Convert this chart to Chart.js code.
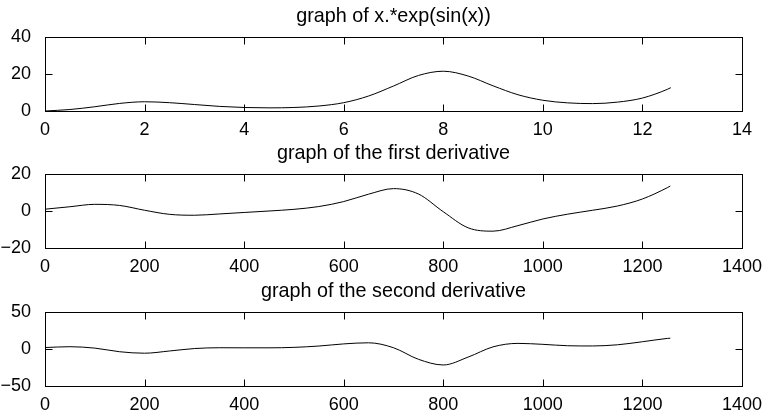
<!DOCTYPE html>
<html>
<head>
<meta charset="utf-8">
<script src="https://cdn.jsdelivr.net/npm/chart.js@4"></script>
<style>
  body { margin: 0; background: #fff; width: 767px; height: 417px; position: relative; overflow: hidden; }
  canvas { position: absolute; left: 0; }
</style>
</head>
<body>
<canvas id="c1" width="767" height="138" style="top:0px"></canvas>
<canvas id="c2" width="767" height="138" style="top:137px"></canvas>
<canvas id="c3" width="767" height="142" style="top:275px"></canvas>
<script>
// values
const xValues = [0, 0.5, 1, 1.5, 2, 2.5, 3, 3.5, 4, 4.5, 5, 5.5, 6, 6.5, 7, 7.5, 8, 8.5, 9, 9.5, 10, 10.5, 11, 11.5, 12, 12.5, 12.57];
const fValues = [0, 0.8, 2.3, 4.1, 5.0, 4.5, 3.5, 2.5, 1.9, 1.7, 1.9, 2.7, 4.5, 8.1, 13.5, 19.2, 21.5, 18.9, 13.6, 8.8, 5.8, 4.4, 4.0, 4.8, 7.0, 11.7, 12.6];

const indexValues = [1, 50, 100, 150, 200, 250, 300, 350, 400, 450, 500, 550, 600, 650, 700, 750, 800, 850, 900, 950, 1000, 1050, 1100, 1150, 1200, 1250, 1256];
const firstDeriv = [1.0, 2.3, 3.6, 3.0, 0.4, -1.8, -2.3, -1.6, -0.8, 0.0, 0.9, 2.4, 5.1, 9.1, 12.1, 9.2, -0.4, -9.1, -10.9, -7.9, -4.3, -1.7, 0.4, 2.7, 6.5, 12.6, 13.5];
const secondDeriv = [2.0, 3.1, 1.2, -3.7, -5.7, -2.7, 0.6, 1.7, 1.6, 1.6, 2.2, 4.0, 6.9, 8.4, 1.7, -13.9, -21.6, -10.9, 2.9, 7.6, 6.3, 4.4, 4.1, 5.7, 9.8, 14.3, 14.6];

const titles = ['graph of x.*exp(sin(x))', 'graph of the first derivative', 'graph of the second derivative'];
const xTicks1 = { min: 0, max: 14, step: 2 };
const xTicks23 = { min: 0, max: 1400, step: 200 };
const yTicks1 = { min: 0, max: 40, step: 20 };
const yTicks2 = { min: -20, max: 20, step: 20 };
const yTicks3 = { min: -50, max: 50, step: 50 };

const FONT = "'Liberation Sans', Arial, Helvetica, sans-serif";
const TICK_LEN = 7;

// MATLAB style box with inward ticks on all four sides
const boxTicks = {
  id: 'boxTicks',
  afterDraw(chart) {
    const { ctx, chartArea: a, scales } = chart;
    const L = Math.round(a.left) + 0.5, R = Math.round(a.right) + 0.5;
    const T = Math.round(a.top) + 0.5, B = Math.round(a.bottom) + 0.5;
    ctx.save();
    ctx.strokeStyle = '#000';
    ctx.lineWidth = 1;
    ctx.beginPath();
    scales.x.ticks.forEach(t => {
      const px = Math.round(scales.x.getPixelForValue(t.value)) + 0.5;
      ctx.moveTo(px, B); ctx.lineTo(px, B - TICK_LEN);
      ctx.moveTo(px, T); ctx.lineTo(px, T + TICK_LEN);
    });
    scales.y.ticks.forEach(t => {
      const py = Math.round(scales.y.getPixelForValue(t.value)) + 0.5;
      ctx.moveTo(L, py); ctx.lineTo(L + TICK_LEN, py);
      ctx.moveTo(R, py); ctx.lineTo(R - TICK_LEN, py);
    });
    ctx.stroke();
    ctx.strokeRect(L, T, R - L, B - T);
    ctx.restore();
  }
};

function fmt(v) {
  return v < 0 ? '\u2212' + Math.abs(v) : String(v);
}

function makePanel(canvas, title, xs, ys, xt, yt) {
  const h = canvas.height;
  return new Chart(canvas.getContext('2d'), {
    type: 'line',
    data: {
      datasets: [{
        data: xs.map((x, i) => ({ x, y: ys[i] })),
        borderColor: '#000',
        borderWidth: 1,
        pointRadius: 0,
        fill: false,
        cubicInterpolationMode: 'monotone',
      }],
    },
    options: {
      responsive: false,
      animation: false,
      layout: { padding: { left: 0, right: 25, top: 0, bottom: 0 } },
      scales: {
        x: {
          type: 'linear',
          min: xt.min,
          max: xt.max,
          grid: { display: false },
          border: { display: false },
          afterFit: s => { s.height = h - 111; },
          ticks: {
            stepSize: xt.step,
            autoSkip: false,
            maxRotation: 0,
            padding: 0,
            color: '#000',
            font: { family: FONT, size: 18 },
            callback: v => fmt(v),
          },
        },
        y: {
          min: yt.min,
          max: yt.max,
          grid: { display: false },
          border: { display: false },
          afterFit: s => { s.width = 45; },
          ticks: {
            stepSize: yt.step,
            padding: 6,
            color: '#000',
            font: { family: FONT, size: 18 },
            callback: v => fmt(v),
          },
        },
      },
      plugins: {
        legend: { display: false },
        tooltip: { enabled: false },
        title: {
          display: true,
          text: title,
          fullSize: false,
          color: '#000',
          font: { family: FONT, size: 19.8, weight: 'normal', lineHeight: 1.2 },
          padding: { top: 5, bottom: 8.24 },
        },
      },
    },
    plugins: [boxTicks],
  });
}

makePanel(document.getElementById('c1'), titles[0], xValues, fValues, xTicks1, yTicks1);
makePanel(document.getElementById('c2'), titles[1], indexValues, firstDeriv, xTicks23, yTicks2);
makePanel(document.getElementById('c3'), titles[2], indexValues, secondDeriv, xTicks23, yTicks3);
</script>
</body>
</html>
